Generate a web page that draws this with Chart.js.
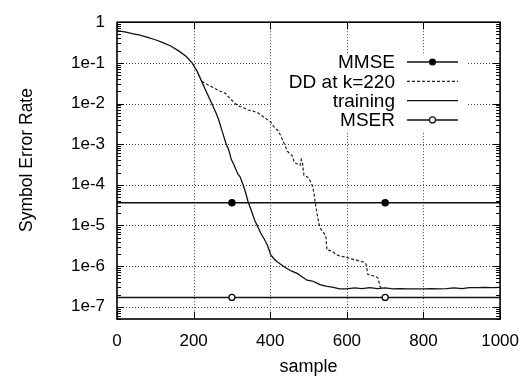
<!DOCTYPE html>
<html>
<head>
<meta charset="utf-8">
<script src="https://cdn.jsdelivr.net/npm/chart.js@4"></script>
<style>
  html, body { margin: 0; padding: 0; background: #fff; }
  canvas { display: block; }
</style>
</head>
<body>
<canvas id="chart" width="531" height="381"></canvas>
<script>
// Symbol error rate vs. sample (log y axis)

const X_TICKS = [0, 200, 400, 600, 800, 1000];
const Y_DECADES = [1e-7, 1e-6, 1e-5, 1e-4, 1e-3, 1e-2, 1e-1, 1];

// flat reference levels, markers at 300 and 700
const REF_X = [0, 300, 700, 1000];
const MMSE_LEVEL = 3.6e-5;
const MSER_LEVEL = 1.7e-7;

// training curve
const TRAIN_X = [0, 20, 40, 60, 80, 100, 120, 140, 160, 180, 196, 210, 221, 235, 247, 258, 265, 275, 285, 292,
  298, 306, 316, 321, 329, 336, 342, 350, 360, 367, 375, 384, 393, 401, 410, 419, 437, 455, 470, 484,
  496, 510, 522, 530, 545, 565, 581, 600, 620, 640, 660, 680, 700, 720, 740, 760, 780, 800, 820, 840,
  860, 880, 900, 920, 940, 960, 980, 1000];
const TRAIN_Y = [6.2e-1, 5.75e-1, 5.25e-1, 4.8e-1, 4.25e-1, 3.7e-1, 3.15e-1, 2.6e-1, 2.0e-1, 1.45e-1, 1.0e-1, 6.0e-2, 3.5e-2, 1.78e-2, 1.02e-2, 6.0e-3, 4.1e-3, 2.0e-3, 1.0e-3, 7.1e-4,
  4.3e-4, 3.0e-4, 1.8e-4, 1.6e-4, 1.0e-4, 6.3e-5, 3.9e-5, 2.4e-5, 1.3e-5, 9.5e-6, 6.5e-6, 4.7e-6, 3.2e-6, 1.9e-6, 1.5e-6, 1.26e-6, 9.5e-7, 7.6e-7, 6.6e-7, 5.4e-7,
  4.5e-7, 4.3e-7, 3.8e-7, 3.5e-7, 3.2e-7, 3.0e-7, 2.75e-7, 2.75e-7, 2.9e-7, 2.8e-7, 2.95e-7, 2.8e-7, 2.9e-7, 2.75e-7, 2.8e-7, 2.75e-7, 2.75e-7, 2.75e-7, 2.8e-7, 2.75e-7,
  2.8e-7, 2.9e-7, 2.8e-7, 2.95e-7, 2.95e-7, 3.0e-7, 2.95e-7, 3.0e-7];

// decision-directed from k=220
const DD_X = [221, 240, 257, 270, 282, 290, 305, 316, 330, 342, 355, 368, 385, 401, 411, 419, 427, 437, 445, 452,
  458, 463, 470, 478, 481, 484, 488, 495, 501, 509, 514, 517, 522, 527, 533, 540, 545, 548, 557, 565,
  573, 585, 599, 612, 625, 643, 650, 655, 668, 676, 682, 686, 692];
const DD_Y = [3.5e-2, 2.8e-2, 2.3e-2, 2.0e-2, 1.8e-2, 1.5e-2, 1.07e-2, 8.7e-3, 7.9e-3, 6.9e-3, 6.5e-3, 5.9e-3, 4.5e-3, 3.5e-3, 2.6e-3, 2.2e-3, 1.66e-3, 1.0e-3, 6.6e-4, 5.8e-4,
  5.1e-4, 3.5e-4, 3.3e-4, 3.0e-4, 4.2e-4, 3.5e-4, 1.7e-4, 1.6e-4, 1.45e-4, 1.0e-4, 6.5e-5, 3.9e-5, 2.0e-5, 1.1e-5, 7.9e-6, 6.5e-6, 5.6e-6, 2.5e-6, 2.4e-6, 2.2e-6,
  1.9e-6, 1.74e-6, 1.66e-6, 1.5e-6, 1.4e-6, 1.26e-6, 1.12e-6, 6.2e-7, 5.8e-7, 5.5e-7, 5.0e-7, 3.2e-7, 2.8e-7];

const LEGEND_ORDER = ["MMSE", "DD at k=220", "training", "MSER"];
const Y_TITLE = "Symbol Error Rate";

const FONT = "'Liberation Sans', Arial, Helvetica, sans-serif";
const zip = (xs, ys) => xs.map((x, i) => ({ x, y: ys[i] }));
const markerRadius = REF_X.map(x => (x === 300 || x === 700) ? 3 : 0);

// key box (blanks the grid behind it, like gnuplot)
const KEY_BOX = { left: 272, top: 54, right: 467, bottom: 131 };

// gnuplot-ish dotted grid, frame, inward ticks and key
const gnuplotFrame = {
  id: "gnuplotFrame",
  beforeDatasetsDraw(chart) {
    const { ctx, chartArea: a, scales } = chart;
    const xs = scales.x, ys = scales.y;
    ctx.save();
    ctx.strokeStyle = "#444";
    ctx.lineWidth = 1;
    ctx.setLineDash([1, 2]);
    ctx.beginPath();
    X_TICKS.slice(1, -1).forEach(v => {
      const x = Math.round(xs.getPixelForValue(v)) + 0.5;
      ctx.moveTo(x, a.top); ctx.lineTo(x, a.bottom);
    });
    Y_DECADES.slice(0, -1).forEach(v => {
      const y = Math.round(ys.getPixelForValue(v)) + 0.5;
      ctx.moveTo(a.left, y); ctx.lineTo(a.right, y);
    });
    ctx.stroke();
    ctx.setLineDash([]);
    ctx.fillStyle = "#fff";
    ctx.fillRect(KEY_BOX.left, KEY_BOX.top, KEY_BOX.right - KEY_BOX.left, KEY_BOX.bottom - KEY_BOX.top);
    ctx.restore();
  },
  afterDraw(chart) {
    const { ctx, chartArea: a, scales } = chart;
    const xs = scales.x, ys = scales.y;
    ctx.save();
    ctx.strokeStyle = "#000";
    ctx.lineWidth = 1;
    ctx.beginPath();
    // major y ticks
    Y_DECADES.forEach(v => {
      const y = Math.round(ys.getPixelForValue(v)) + 0.5;
      ctx.moveTo(a.left, y); ctx.lineTo(a.left + 7, y);
      ctx.moveTo(a.right, y); ctx.lineTo(a.right - 7, y);
    });
    // minor y ticks
    [1e-8, 1e-7, 1e-6, 1e-5, 1e-4, 1e-3, 1e-2, 1e-1].forEach(d => {
      for (let k = 2; k < 10; k++) {
        const v = k * d;
        if (v < ys.min || v > ys.max) continue;
        const y = Math.round(ys.getPixelForValue(v)) + 0.5;
        ctx.moveTo(a.left, y); ctx.lineTo(a.left + 4, y);
        ctx.moveTo(a.right, y); ctx.lineTo(a.right - 4, y);
      }
    });
    // x ticks
    X_TICKS.forEach(v => {
      const x = Math.round(xs.getPixelForValue(v)) + 0.5;
      ctx.moveTo(x, a.bottom); ctx.lineTo(x, a.bottom - 7);
      ctx.moveTo(x, a.top); ctx.lineTo(x, a.top + 7);
    });
    ctx.stroke();
    ctx.lineWidth = 1.6;
    ctx.strokeRect(a.left, a.top, a.right - a.left, a.bottom - a.top);

    // y axis title, sits a little above the plot's middle in the original
    ctx.save();
    ctx.translate(27, 160);
    ctx.rotate(-Math.PI / 2);
    ctx.font = "17.5px " + FONT;
    ctx.textAlign = "center";
    ctx.textBaseline = "middle";
    ctx.fillStyle = "#000";
    ctx.fillText(Y_TITLE, 0, 0);
    ctx.restore();

    // key
    ctx.font = "19px " + FONT;
    ctx.textAlign = "right";
    ctx.textBaseline = "middle";
    ctx.fillStyle = "#000";
    LEGEND_ORDER.forEach((label, i) => {
      const ds = chart.data.datasets.find(d => d.label === label);
      const y = 62 + i * 19.3;
      ctx.fillText(label, 395, y + 1);
      ctx.save();
      ctx.strokeStyle = ds.borderColor;
      ctx.lineWidth = ds.borderWidth;
      ctx.setLineDash(ds.borderDash || []);
      ctx.beginPath();
      ctx.moveTo(407, y); ctx.lineTo(458, y);
      ctx.stroke();
      ctx.setLineDash([]);
      if (ds.pointStyleKey) {
        ctx.beginPath();
        ctx.arc(432.5, y, 3, 0, Math.PI * 2);
        ctx.fillStyle = ds.pointBackgroundColor;
        ctx.fill();
        ctx.lineWidth = 1.2;
        ctx.stroke();
      }
      ctx.restore();
    });
    ctx.restore();
  }
};

new Chart(document.getElementById("chart"), {
  type: "line",
  data: {
    datasets: [
      {
        label: "MMSE",
        data: REF_X.map(x => ({ x, y: MMSE_LEVEL })),
        borderColor: "#111",
        borderWidth: 1.5,
        pointRadius: markerRadius,
        pointBackgroundColor: "#000",
        pointBorderColor: "#000",
        pointStyleKey: true,
      },
      {
        label: "MSER",
        data: REF_X.map(x => ({ x, y: MSER_LEVEL })),
        borderColor: "#111",
        borderWidth: 1.5,
        pointRadius: markerRadius,
        pointBackgroundColor: "#fff",
        pointBorderColor: "#000",
        pointBorderWidth: 1.2,
        pointStyleKey: true,
      },
      {
        label: "training",
        data: zip(TRAIN_X, TRAIN_Y),
        borderColor: "#111",
        borderWidth: 1.3,
        pointRadius: 0,
      },
      {
        label: "DD at k=220",
        data: zip(DD_X, DD_Y),
        borderColor: "#222",
        borderWidth: 1.2,
        borderDash: [3, 2],
        pointRadius: 0,
      },
    ],
  },
  options: {
    responsive: false,
    animation: false,
    devicePixelRatio: 1,
    layout: { padding: { top: 12, right: 25, bottom: 0, left: 0 } },
    plugins: { legend: { display: false }, tooltip: { enabled: false } },
    elements: { line: { tension: 0 } },
    scales: {
      x: {
        type: "linear",
        min: 0,
        max: 1000,
        afterBuildTicks: s => { s.ticks = X_TICKS.map(v => ({ value: v })); },
        afterFit: s => { s.height = 62; },
        ticks: { font: { size: 17, family: FONT }, color: "#000", padding: 12, maxRotation: 0, callback: v => String(v) },
        grid: { display: false, drawTicks: false },
        border: { display: false },
        title: { display: true, text: "sample", font: { size: 18, family: FONT }, color: "#000", padding: { top: 0, bottom: 3 } },
      },
      y: {
        type: "logarithmic",
        min: 5e-8,
        max: 1,
        afterBuildTicks: s => { s.ticks = Y_DECADES.map(v => ({ value: v })); },
        afterFit: s => { s.width = 117; },
        ticks: {
          font: { size: 17, family: FONT },
          color: "#000",
          padding: 12,
          callback: v => v === 1 ? "1" : "1e" + Math.round(Math.log10(v)),
        },
        grid: { display: false, drawTicks: false },
        border: { display: false },
        title: { display: false },
      },
    },
  },
  plugins: [gnuplotFrame],
});
</script>
</body>
</html>
